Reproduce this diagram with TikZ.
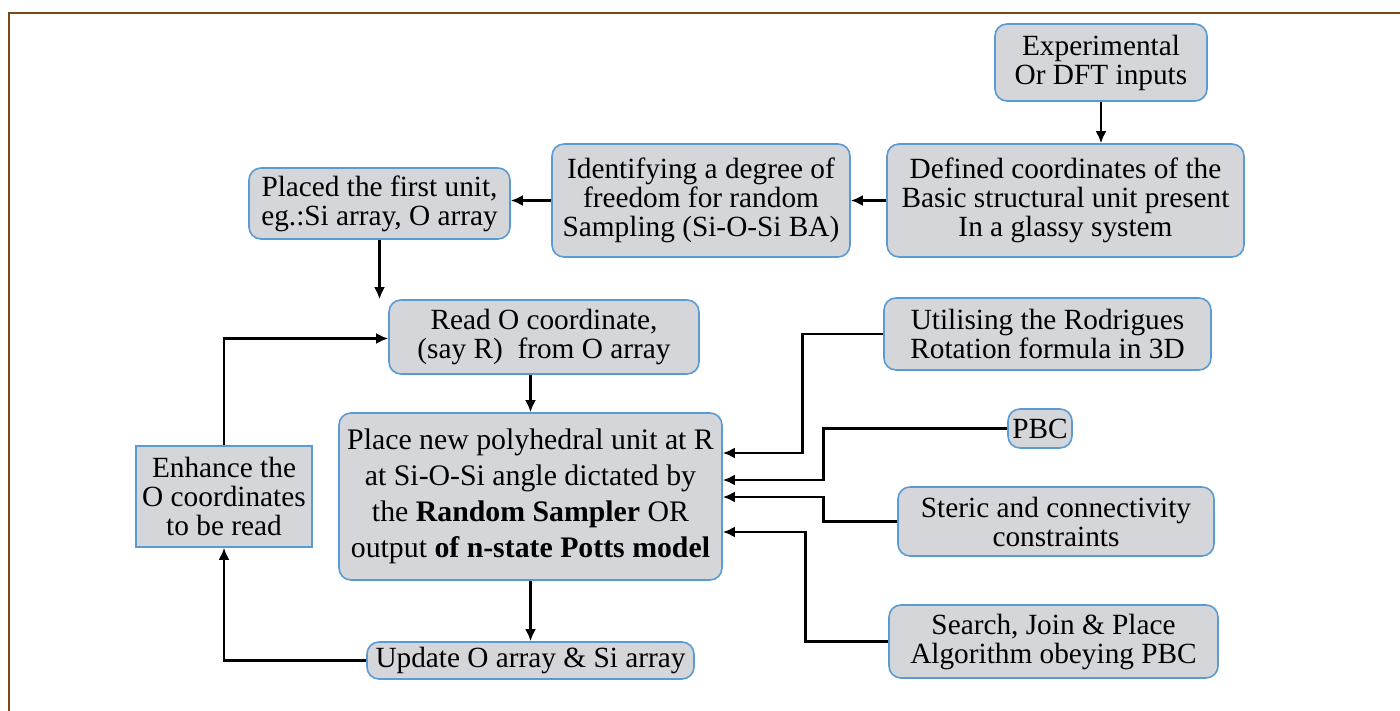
\documentclass[tikz,border=0pt]{standalone}
\usepackage{fontspec}
\setmainfont{Liberation Serif}
\usetikzlibrary{arrows.meta}
\definecolor{boxfill}{HTML}{D4D6D9}
\definecolor{boxline}{HTML}{5B9BD5}
\definecolor{frameline}{HTML}{7A4A16}

\begin{document}
\begin{tikzpicture}[x=1pt,y=-1pt,
    box/.style={draw=boxline, line width=1.6pt, fill=boxfill, rounded corners=12pt,
                align=center, inner sep=0pt, font=\fontsize{29.3}{29}\selectfont},
    sqbox/.style={box, rounded corners=0pt},
    conn/.style={line width=2.8pt, -{Latex[length=12pt,width=11pt]}}]
                        \useasboundingbox (0,0) rectangle (1400,711);
                        \draw[frameline, line width=2pt] (9,711) -- (9,13) -- (1400,13);

                        % top row
                        \node[box, minimum width=212pt, minimum height=77pt] (expt) at (1101,62.5) {Experimental\\Or DFT inputs};
                        \node[box, minimum width=357pt, minimum height=113pt] (defined) at (1065.5,200.5) {Defined coordinates of the\\Basic structural unit present\\In a glassy system};
                        \node[box, minimum width=298pt, minimum height=113pt] (identify) at (701,200.5) {Identifying a degree of\\freedom for random\\Sampling (Si-O-Si BA)};
                        \node[box, minimum width=261pt, minimum height=71pt] (placed) at (379.5,203.5) {Placed the first unit,\\eg.:Si array, O array};

                        % main loop
                        \node[box, minimum width=310pt, minimum height=74pt] (readO) at (544,337) {Read O coordinate,\\(say R)~ from O array};
                        \node[box, minimum width=383pt, minimum height=167pt, font=\fontsize{29.8}{36}\selectfont] (place) at (530.5,496.5)
                            {Place new polyhedral unit at R\\at Si-O-Si angle dictated by\\the \textbf{Random Sampler} OR\\output \textbf{of n-state Potts model}};
                        \node[sqbox, minimum width=176pt, minimum height=101pt] (enhance) at (224,496.5) {Enhance the\\O coordinates\\to be read};
                        \node[box, minimum width=327pt, minimum height=37pt] (update) at (530.5,660.5) {Update O array \& Si array};

                        % constraints
                        \node[box, minimum width=327pt, minimum height=72pt] (rodrigues) at (1047.5,334) {Utilising the Rodrigues\\Rotation formula in 3D};
                        \node[box, minimum width=64pt, minimum height=39pt] (pbc) at (1040,428.5) {PBC};
                        \node[box, minimum width=316pt, minimum height=69pt] (steric) at (1056,521.5) {Steric and connectivity\\constraints};
                        \node[box, minimum width=329pt, minimum height=73pt] (search) at (1053.5,641.5) {Search, Join \& Place\\Algorithm obeying PBC};

                        \draw[conn] (expt.south) -- (expt.south |- defined.north);
                        \draw[conn] (defined.west) -- (identify.east);
                        \draw[conn] (identify.west) -- (identify.west -| placed.east);
                        \draw[conn] (placed.south) -- (placed.south |- readO.north);
                        \draw[conn] (readO.south -| place.north) -- (place.north);
                        \draw[conn] (place.south) -- (update.north);
                        \draw[conn] (update.west) -| (enhance.south);
                        \draw[conn] (enhance.north) |- ([yshift=-1.5pt]readO.west);

                        \draw[conn] (rodrigues.west) -- ++(-81,0) |- ([yshift=43.5pt]place.east);
                        \draw[conn] (pbc.west) -- ++(-184,0) |- ([yshift=16.5pt]place.east);
                        \draw[conn] (steric.west) -- ++(-74,0) |- ([yshift=-0.5pt]place.east);
                        \draw[conn] (search.west) -- ++(-83,0) |- ([yshift=-35.5pt]place.east);
                    \end{tikzpicture}
\end{document}
